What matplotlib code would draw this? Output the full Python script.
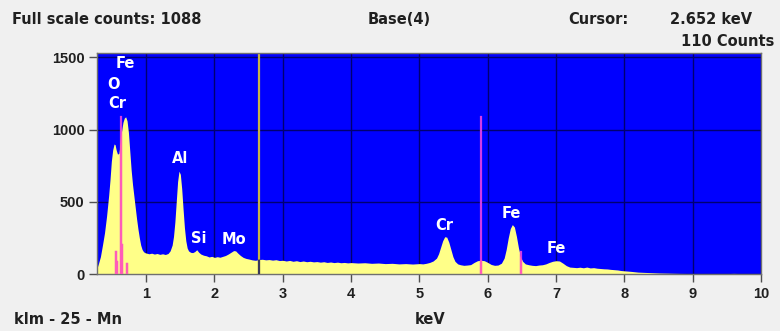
import numpy as np
import matplotlib
matplotlib.use('Agg')
import matplotlib.pyplot as plt

# EDS spectrum (keV, counts)
energy = [0.28, 0.30, 0.33, 0.36, 0.39, 0.42, 0.45, 0.47, 0.49, 0.51, 0.53, 0.545, 0.56, 0.58,
          0.60, 0.62, 0.64, 0.66, 0.68, 0.70, 0.72, 0.74, 0.76, 0.78, 0.80, 0.82, 0.84, 0.86,
          0.88, 0.90, 0.92, 0.94, 0.96, 0.98, 1.00, 1.04, 1.08, 1.12, 1.16, 1.20, 1.24, 1.28,
          1.32, 1.35, 1.38, 1.40, 1.42, 1.44, 1.46, 1.48, 1.50, 1.52, 1.54, 1.56, 1.58, 1.60,
          1.62, 1.65, 1.68, 1.71, 1.74, 1.77, 1.80, 1.84, 1.88, 1.92, 1.96, 2.00, 2.04, 2.08,
          2.12, 2.16, 2.20, 2.24, 2.28, 2.31, 2.34, 2.38, 2.42, 2.46, 2.50, 2.55, 2.60, 2.65,
          2.70, 2.75, 2.80, 2.85, 2.90, 2.95, 3.00, 3.05, 3.10, 3.15, 3.20, 3.25, 3.30, 3.35,
          3.40, 3.45, 3.50, 3.55, 3.60, 3.65, 3.70, 3.75, 3.80, 3.85, 3.90, 3.95, 4.00, 4.10,
          4.20, 4.30, 4.40, 4.50, 4.60, 4.70, 4.80, 4.90, 5.00, 5.05, 5.10, 5.15, 5.20, 5.25,
          5.28, 5.31, 5.34, 5.37, 5.40, 5.43, 5.46, 5.49, 5.52, 5.56, 5.60, 5.65, 5.70, 5.75,
          5.80, 5.85, 5.90, 5.95, 6.00, 6.05, 6.10, 6.15, 6.20, 6.24, 6.27, 6.30, 6.33, 6.36,
          6.39, 6.42, 6.45, 6.48, 6.51, 6.55, 6.60, 6.65, 6.70, 6.75, 6.80, 6.85, 6.90, 6.95,
          7.00, 7.05, 7.10, 7.15, 7.20, 7.25, 7.30, 7.35, 7.40, 7.45, 7.50, 7.55, 7.60, 7.65,
          7.70, 7.75, 7.80, 7.85, 7.90, 7.95, 8.00, 8.10, 8.20, 8.30, 8.40, 8.50, 8.60, 8.70,
          8.80, 9.00, 9.20, 9.40, 9.60, 9.80, 10.0]
counts = [40, 70, 120, 200, 285, 400, 540, 650, 780, 860, 900, 895, 860, 830,
          835, 900, 990, 1050, 1080, 1088, 1060, 980, 850, 720, 620, 540, 460, 380,
          310, 250, 200, 170, 155, 148, 145, 140, 144, 138, 142, 136, 140, 135,
          142, 160, 200, 260, 360, 500, 640, 712, 690, 590, 450, 320, 230, 180,
          160, 150, 148, 155, 168, 150, 138, 130, 126, 118, 122, 115, 120, 116,
          122, 128, 138, 150, 162, 160, 145, 128, 115, 108, 104, 98, 95, 100,
          102, 98, 100, 96, 99, 93, 95, 90, 94, 88, 92, 86, 90, 85,
          88, 84, 86, 82, 85, 80, 83, 79, 82, 78, 80, 77, 79, 76,
          78, 74, 76, 72, 74, 70, 72, 69, 72, 70, 74, 80, 90, 110,
          140, 185, 230, 258, 255, 220, 170, 120, 88, 70, 64, 60, 62, 65,
          80, 92, 95, 92, 80, 66, 60, 62, 75, 110, 170, 250, 315, 342,
          325, 260, 180, 120, 88, 70, 64, 60, 58, 62, 64, 70, 80, 88,
          92, 90, 75, 58, 48, 46, 44, 47, 43, 48, 42, 44, 40, 38,
          36, 35, 32, 30, 28, 24, 22, 18, 13, 11, 9, 7, 6, 5,
          4, 3, 3, 2, 4, 2, 2]

# KLM marker lines for Mn (keV, height)
marker_e = [0.556, 0.580, 0.637, 0.649, 0.720, 5.899, 6.490]
marker_h = [150, 80, 1090, 200, 70, 1090, 150]

# peak labels
peak_names = ['Fe', 'O', 'Cr', 'Al', 'Si', 'Mo', 'Cr', 'Fe', 'Fe']
peak_e = [0.70, 0.525, 0.57, 1.49, 1.77, 2.28, 5.37, 6.35, 7.01]
peak_y = [1455, 1310, 1177, 800, 245, 238, 335, 420, 175]

cursor_kev = 2.652
full_scale = 1088

W, H = 780, 331
fig = plt.figure(figsize=(W / 100, H / 100), dpi=100, facecolor='#f0f0f0')
ax = fig.add_axes([97 / W, 1 - 274 / H, (761 - 97) / W, (274 - 53) / H])
ax.set_facecolor('#0000ff')

ax.set_xlim(0.28, 10)
ax.set_ylim(0, 1530)
ax.set_axisbelow(True)
ax.grid(True, color='#000070', linewidth=1)

spec = ax.fill_between(energy, counts, 0, color='#ffff88', linewidth=0, zorder=1)
clip = spec.get_paths()[0]

# marker lines: magenta on blue, pink inside the spectrum
for e, h in zip(marker_e, marker_h):
    ax.plot([e, e], [0, h], color='#d23ce6', linewidth=1.6, zorder=2)
    ln, = ax.plot([e, e], [0, h], color='#ff5cb8', linewidth=1.6, zorder=3)
    ln.set_clip_path(clip, ax.transData)

# cursor line
ax.axvline(cursor_kev, color='#c8b446', linewidth=1.6, zorder=2)
cl = ax.axvline(cursor_kev, color='#3a3a5a', linewidth=1.6, zorder=3)
cl.set_clip_path(clip, ax.transData)

font = 'DejaVu Sans'
for name, e, y in zip(peak_names, peak_e, peak_y):
    ax.text(e, y, name, color='white', fontsize=10.5, fontweight='bold',
            family=font, ha='center', va='center', zorder=4)

ax.set_xticks(range(1, 11))
ax.set_yticks([0, 500, 1000, 1500])
ax.tick_params(direction='out', length=6, width=1, color='#505050',
               labelsize=10.5, labelcolor='#202020', pad=3)
for lab in ax.get_xticklabels() + ax.get_yticklabels():
    lab.set_fontweight('bold')
    lab.set_family('Liberation Sans')
for s in ax.spines.values():
    s.set_color('#707070')
    s.set_linewidth(1)

txt = dict(fontsize=10.5, fontweight='bold', family=font, color='#202020', va='center')
fig.text(12 / W, 1 - 20 / H, f'Full scale counts: {full_scale}', ha='left', **txt)
fig.text(399 / W, 1 - 20 / H, 'Base(4)', ha='center', **txt)
fig.text(568 / W, 1 - 20 / H, 'Cursor:', ha='left', **txt)
fig.text(752 / W, 1 - 20 / H, f'{cursor_kev:.3f} keV', ha='right', **txt)
fig.text(681 / W, 1 - 42 / H, '110 Counts', ha='left', **txt)
fig.text(14 / W, 1 - 320 / H, 'klm - 25 - Mn', ha='left', **txt)
fig.text(430 / W, 1 - 320 / H, 'keV', ha='center', **txt)

fig.savefig('out.png', dpi=100, facecolor=fig.get_facecolor())
